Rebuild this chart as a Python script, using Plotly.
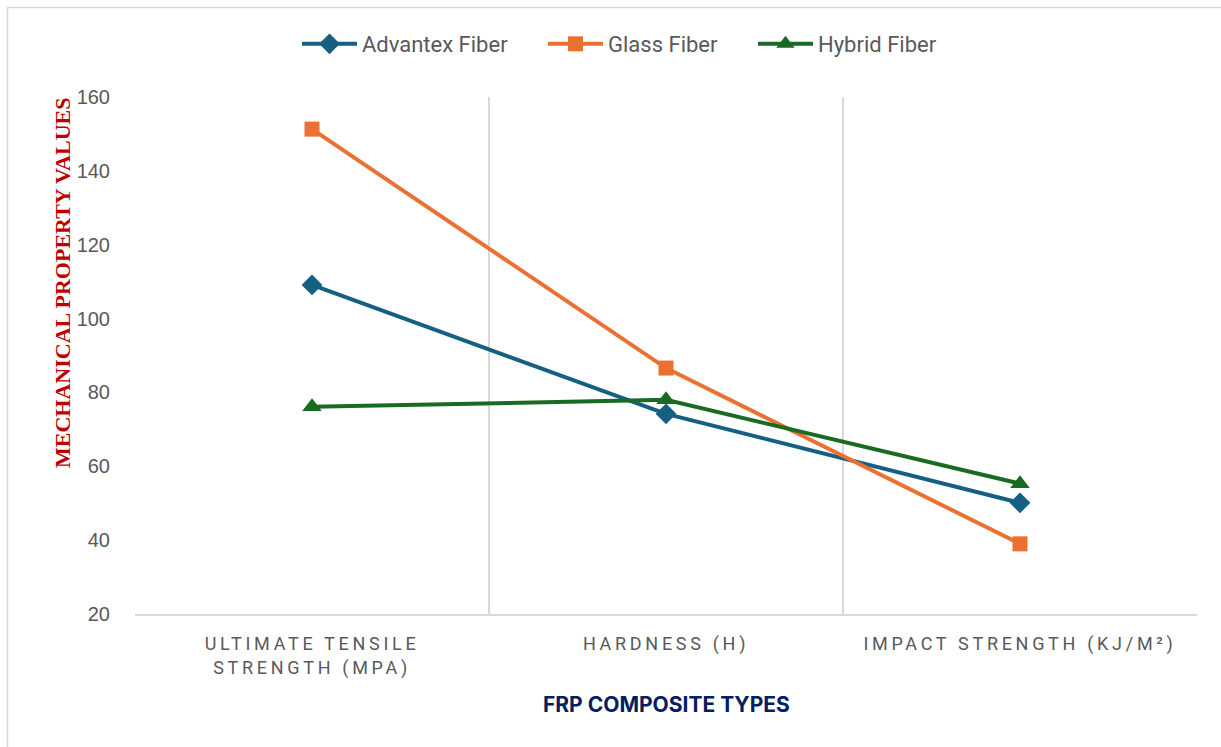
import plotly.graph_objects as go

categories = ["ULTIMATE TENSILE<br>STRENGTH (MPA)", "HARDNESS (H)", "IMPACT STRENGTH (KJ/M²)"]
advantex = [109.1, 74.2, 50.1]
glass = [151.3, 86.6, 39.0]
hybrid = [76.1, 78.0, 55.3]
y_ticks = [20, 40, 60, 80, 100, 120, 140, 160]

W, H = 1221, 747
L, R, T, B = 135, 24, 97, 133
pw, ph = W - L - R, H - T - B

def px_x(p):
    return (p - L) / pw

def px_y(p):
    return (H - B - p) / ph

fig = go.Figure()
series = [
    ("Advantex Fiber", advantex, "#156082", "diamond", 16, "legend", 297),
    ("Glass Fiber", glass, "#E97132", "square", 15, "legend2", 543),
    ("Hybrid Fiber", hybrid, "#196B24", "triangle-up", 17, "legend3", 753),
]
legend_cfg = {}
for name, vals, col, sym, sz, lg, lx in series:
    fig.add_trace(go.Scatter(
        x=categories, y=vals, name=name, mode="lines+markers",
        line=dict(color=col, width=4),
        marker=dict(symbol=sym, size=sz, color=col),
        legend=lg,
    ))
    legend_cfg[lg] = dict(orientation="h", x=px_x(lx), xanchor="left", y=px_y(44), yanchor="middle",
                          font=dict(size=22, color="#595959", family="Roboto, Arial, sans-serif"),
                          itemwidth=55, bgcolor="rgba(0,0,0,0)")

fig.update_layout(
    width=W, height=H,
    margin=dict(l=L, r=R, t=T, b=B),
    paper_bgcolor="white", plot_bgcolor="white",
    font=dict(family="Roboto, Arial, sans-serif", color="#595959"),
    showlegend=True,
    shapes=[dict(type="rect", xref="paper", yref="paper",
                 x0=px_x(7.5), x1=px_x(1240), y0=px_y(7.5), y1=px_y(760),
                 line=dict(color="#D9D9D9", width=1.5), fillcolor="rgba(0,0,0,0)", layer="below")],
    annotations=[
        dict(text="<b>MECHANICAL PROPERTY VALUES</b>", xref="paper", yref="paper",
             x=px_x(62), y=px_y(283), xanchor="center", yanchor="middle", textangle=-90,
             showarrow=False,
             font=dict(size=22, color="#C00000", family="Liberation Serif, Times New Roman, serif")),
        dict(text="<b>FRP COMPOSITE TYPES</b>", xref="paper", yref="paper",
             x=px_x(666), y=px_y(704), xanchor="center", yanchor="middle", showarrow=False,
             font=dict(size=21, color="#002060", family="Inter, Roboto, Arial, sans-serif")),
    ],
    **legend_cfg,
)
fig.update_xaxes(
    type="category", tickson="boundaries", showgrid=True, gridcolor="#D9D9D9", gridwidth=1.5,
    showline=True, linecolor="#D9D9D9", linewidth=1.5, ticks="",
    range=[-0.5, 2.5], ticklabelstandoff=13,
    tickfont=dict(size=18, color="#595959", family="Roboto, Arial, sans-serif"),
)
fig.update_yaxes(
    range=[20, 160], tickvals=y_ticks, showgrid=False, zeroline=False, showline=False,
    tickfont=dict(size=20, color="#595959", family="Arial, Liberation Sans, sans-serif"),
    ticks="", ticklen=0, ticklabelstandoff=24,
)

post = """
function sp(){document.querySelectorAll('.xtick text').forEach(function(t){t.style.letterSpacing='3.7px';});}
sp(); setTimeout(sp, 50); setTimeout(sp, 300);
"""
fig.write_html("out.html", post_script=post)
